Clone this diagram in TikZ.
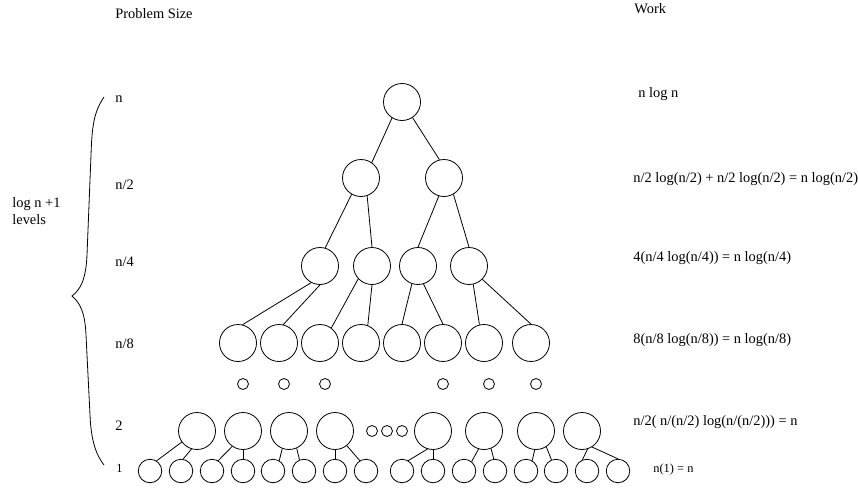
\documentclass[tikz,border=0pt]{standalone}
\usepackage{fontspec}
\setmainfont{Liberation Serif}
\begin{document}
\begin{tikzpicture}[x=1pt,y=-1pt,line width=0.8pt,
  big/.style={circle,draw,inner sep=0pt,minimum size=37pt},
  leaf/.style={circle,draw,inner sep=0pt,minimum size=23.5pt},
  dot/.style={circle,draw,inner sep=0pt,minimum size=11pt},
  lbl/.style={anchor=base west,inner sep=0pt,font=\fontsize{14.4}{17}\selectfont},
  slbl/.style={anchor=base west,inner sep=0pt,font=\fontsize{12.4}{15}\selectfont}]
\useasboundingbox (0,0) rectangle (858,487);
% tree nodes
\node[big] (r) at (402,102) {};
\node[big] (a1) at (361,178) {};
\node[big] (a2) at (444,178) {};
\foreach \x [count=\i] in {320,372,418,469} \node[big] (b\i) at (\x,266) {};
\foreach \x [count=\i] in {238,279,320,361,402,443,484,531} \node[big] (c\i) at (\x,343) {};
\foreach \x [count=\i] in {243,284,325,443,489,536} \node[dot] (d\i) at (\x,384) {};
\foreach \x [count=\i] in {197,243,289,335,433,484,536,582} \node[big] (e\i) at (\x,431) {};
\foreach \x [count=\i] in {372,387,402} \node[dot] (f\i) at (\x,431) {};
\foreach \x [count=\i] in {150,181,212,243,273,304,335,366,402,433,464,495,526,556,587,618} \node[leaf] (g\i) at (\x,471) {};
% edges
\draw (r.238) -- (a1.55);
\draw (r.304) -- (a2.104);
\draw (a1.240) -- (b1.74);
\draw (a1.289) -- (b2.90);
\draw (a2.254) -- (b3.90);
\draw (a2.300) -- (b4.90);
\draw (b1.242) -- (c1.76);
\draw (b1.270) -- (c2.77);
\draw (b2.223) -- (c3.53);
\draw (b2.270) -- (c4.69);
\draw (b3.251) -- (c5.90);
\draw (b3.287) -- (c6.90);
\draw (b4.283) -- (c7.104);
\draw (b4.315) -- (c8.90);
\draw (e1.216) -- (g1.57);
\draw (e1.253) -- (g2.80);
\draw (e2.235) -- (g3.59);
\draw (e2.270) -- (g4.90);
\draw (e3.249) -- (g5.59);
\draw (e3.294) -- (g6.112);
\draw (e4.270) -- (g7.90);
\draw (e4.309) -- (g8.121);
\draw (e5.253) -- (g9.59);
\draw (e5.270) -- (g10.90);
\draw (e6.253) -- (g11.51);
\draw (e6.292) -- (g12.96);
\draw (e7.266) -- (g13.59);
\draw (e7.303) -- (g14.112);
\draw (e8.287) -- (g15.112);
\draw (e8.302) -- (g16.90);
% brace
\draw (104,97) .. controls (94,112) and (92,125) .. (91,155) -- (87,255)
  .. controls (86,280) and (80,290) .. (72,296)
  .. controls (80,303) and (85,312) .. (86,335) -- (90,415)
  .. controls (91,440) and (96,455) .. (104,465);
% labels
\node[lbl] (ps) at (115,19) {Problem Size};
\node[lbl] (wk) at (634,14) {Work};
\node[lbl] (s1) at (115,102) {n};
\node[lbl] (s2) at (115,189) {n/2};
\node[lbl] (s3) at (115,266) {n/4};
\node[lbl] (s4) at (115,348) {n/8};
\node[lbl] (s5) at (115,430) {2};
\node[slbl] (s6) at (116,472) {1};
\node[lbl,align=left,anchor=base west] (lv) at (12,224) {log n +1\\levels};
\node[lbl] (w1) at (638,97) {n log n};
\node[lbl] (w2) at (633,182) {n/2 log(n/2) + n/2 log(n/2) = n log(n/2)};
\node[lbl] (w3) at (633,261) {4(n/4 log(n/4)) = n log(n/4)};
\node[lbl] (w4) at (633,343) {8(n/8 log(n/8)) = n log(n/8)};
\node[lbl] (w5) at (633,425) {n/2( n/(n/2) log(n/(n/2))) = n};
\node[slbl] (w6) at (653,472) {n(1) = n};
\end{tikzpicture}
\end{document}
